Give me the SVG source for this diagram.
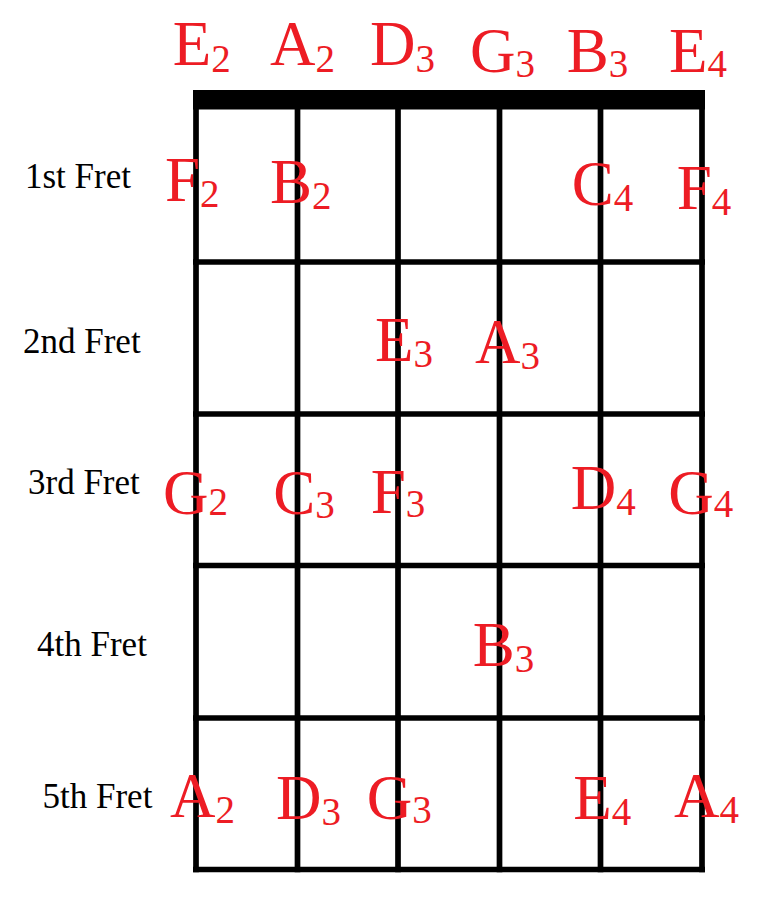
<svg xmlns="http://www.w3.org/2000/svg" width="782" height="924" viewBox="0 0 782 924">
<style>
.ln{stroke:#000;stroke-width:5.7;fill:none}
.nt{font-family:"Liberation Serif","Times New Roman",serif;font-size:63px;fill:#ED1C24}
.sb{font-size:39px}
.fr{font-family:"Liberation Serif","Times New Roman",serif;font-size:35px;fill:#000}
</style>
<rect width="782" height="924" fill="#fff"/>
<g id="grid">
<rect id="nut" x="193" y="90" width="512" height="19.5" fill="#000"/>
<g id="strings" class="ln">
<line x1="196" y1="105" x2="196" y2="872.3"/>
<line x1="297.5" y1="105" x2="297.5" y2="872.3"/>
<line x1="398" y1="105" x2="398" y2="872.3"/>
<line x1="499.5" y1="105" x2="499.5" y2="872.3"/>
<line x1="600.5" y1="105" x2="600.5" y2="872.3"/>
<line x1="702" y1="105" x2="702" y2="872.3"/>
</g>
<g id="frets" class="ln">
<line x1="193" y1="262" x2="705" y2="262"/>
<line x1="193" y1="414" x2="705" y2="414"/>
<line x1="193" y1="565.5" x2="705" y2="565.5"/>
<line x1="193" y1="718" x2="705" y2="718"/>
<line x1="193" y1="869.5" x2="705" y2="869.5"/>
</g>
</g>
<g id="fret-labels" class="fr">
<text x="25" y="188">1st Fret</text>
<text x="23" y="352.5">2nd Fret</text>
<text x="28" y="494">3rd Fret</text>
<text x="37" y="655.5">4th Fret</text>
<text x="42.5" y="807.5">5th Fret</text>
</g>
<g id="open-strings" class="nt">
<text x="172.7" y="65">E<tspan class="sb" dy="6.5">2</tspan></text>
<text x="270" y="65">A<tspan class="sb" dy="6.5">2</tspan></text>
<text x="370" y="65">D<tspan class="sb" dy="6.5">3</tspan></text>
<text x="470" y="71.5">G<tspan class="sb" dy="5.5">3</tspan></text>
<text x="566.7" y="71.5">B<tspan class="sb" dy="5.5">3</tspan></text>
<text x="669" y="71.5">E<tspan class="sb" dy="5.5">4</tspan></text>
</g>
<g id="fret1" class="nt">
<text x="165" y="200.5">F<tspan class="sb" dy="6">2</tspan></text>
<text x="270" y="202.5">B<tspan class="sb" dy="6">2</tspan></text>
<text x="571.7" y="205">C<tspan class="sb" dy="6">4</tspan></text>
<text x="676.7" y="209">F<tspan class="sb" dy="6">4</tspan></text>
</g>
<g id="fret2" class="nt">
<text x="375" y="360.5">E<tspan class="sb" dy="6">3</tspan></text>
<text x="475" y="362.5">A<tspan class="sb" dy="6">3</tspan></text>
</g>
<g id="fret3" class="nt">
<text x="163" y="514">G<tspan class="sb" dy="1">2</tspan></text>
<text x="273.3" y="514">C<tspan class="sb" dy="4">3</tspan></text>
<text x="370.7" y="513">F<tspan class="sb" dy="4">3</tspan></text>
<text x="570.7" y="509.3">D<tspan class="sb" dy="6">4</tspan></text>
<text x="668.3" y="514">G<tspan class="sb" dy="3">4</tspan></text>
</g>
<g id="fret4" class="nt">
<text x="472.7" y="665.7">B<tspan class="sb" dy="6">3</tspan></text>
</g>
<g id="fret5" class="nt">
<text x="170" y="816.7">A<tspan class="sb" dy="6">2</tspan></text>
<text x="276" y="819.3">D<tspan class="sb" dy="6">3</tspan></text>
<text x="366.7" y="819">G<tspan class="sb" dy="4">3</tspan></text>
<text x="573.3" y="819.3">E<tspan class="sb" dy="6">4</tspan></text>
<text x="674" y="817.3">A<tspan class="sb" dy="6">4</tspan></text>
</g>
</svg>
